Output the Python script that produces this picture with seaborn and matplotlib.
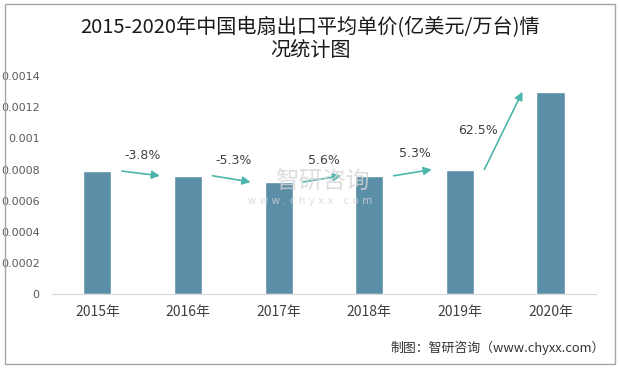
"""
2015-2020年中国电扇出口平均单价 柱状图 + 增速箭头
"""
import numpy as np
import pandas as pd
import matplotlib.pyplot as plt
import seaborn as sns
from matplotlib.patches import Rectangle

years = ["2015年", "2016年", "2017年", "2018年", "2019年", "2020年"]
unit_price = [0.00079, 0.00076, 0.00072, 0.00076, 0.00080, 0.00130]
growth_labels = ["-3.8%", "-5.3%", "5.6%", "5.3%", "62.5%"]
y_ticks = [0, 0.0002, 0.0004, 0.0006, 0.0008, 0.001, 0.0012, 0.0014]
y_tick_labels = ["0", "0.0002", "0.0004", "0.0006", "0.0008", "0.001", "0.0012", "0.0014"]

sns.set_style("white")
plt.rcParams["font.family"] = ["Noto Sans CJK SC", "DejaVu Sans"]

df = pd.DataFrame({"year": years, "price": unit_price})

fig = plt.figure(figsize=(6.2, 3.68), dpi=100)
ax = fig.add_axes([0.084, 0.201, 0.877, 0.592])

sns.barplot(data=df, x="year", y="price", color="#5B8FA8", saturation=1,
            width=0.31, ax=ax)

# flèches de croissance entre les barres
for i, lab in enumerate(growth_labels):
    v0, v1 = unit_price[i], unit_price[i + 1]
    ax.annotate("", xy=(i + 0.69, v1), xytext=(i + 0.27, v0),
                arrowprops=dict(arrowstyle="-|>", color="#4DB6AC", lw=1.2,
                                mutation_scale=12, shrinkA=0, shrinkB=0))
    if v1 / v0 > 1.3:
        tx, ty = i + 0.2, (v0 + v1) / 2
    else:
        tx, ty = i + 0.5, max(v0, v1) + 0.0001
    ax.text(tx, ty, lab, ha="center", va="center", fontsize=9, color="#404040",
            family=["DejaVu Sans"], zorder=5)

ax.set_xlim(-0.5, 5.5)
ax.set_ylim(0, 0.0014)
ax.set_yticks(y_ticks)
ax.set_yticklabels(y_tick_labels, fontsize=8, color="#595959", family=["DejaVu Sans"])
ax.tick_params(axis="x", labelsize=10, colors="#404040", length=0, pad=8)
ax.tick_params(axis="y", length=0, pad=9)
ax.set_xlabel(""); ax.set_ylabel("")
for s in ["top", "right", "left"]:
    ax.spines[s].set_visible(False)
ax.spines["bottom"].set_color("#D9D9D9")

# filigrane
fig.text(0.52, 0.505, "智研咨询", ha="center", va="center", fontsize=17,
         color="#D5D5D5", alpha=0.8, zorder=0)
fig.text(0.5, 0.455, "w w w . c h y x x . c o m", ha="center", va="center",
         fontsize=7.5, color="#D5D5D5", alpha=0.8, family=["DejaVu Sans"])

fig.text(0.5, 0.925, "2015-2020年中国电扇出口平均单价(亿美元/万台)情", ha="center",
         va="center", fontsize=14.5, color="#1A1A1A")
fig.text(0.5, 0.862, "况统计图", ha="center", va="center", fontsize=14.5,
         color="#1A1A1A")
fig.text(0.975, 0.055, "制图：智研咨询（www.chyxx.com）", ha="right", va="center",
         fontsize=9.3, color="#333333")

fig.patches.append(Rectangle((0.008, 0.01), 0.984, 0.98, transform=fig.transFigure,
                             fill=False, edgecolor="#A6A6A6", lw=1))

plt.savefig("out.png", dpi=100)
plt.close()
